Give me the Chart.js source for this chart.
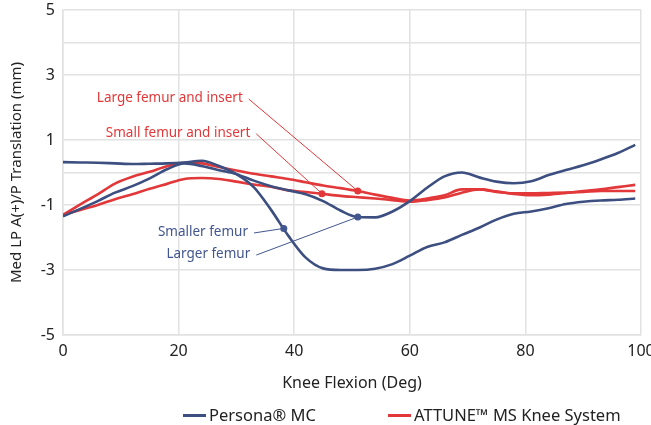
<!DOCTYPE html>
<html>
<head>
<meta charset="utf-8">
<script src="https://cdn.jsdelivr.net/npm/chart.js@4"></script>
<style>
  body { margin: 0; background: #fff; }
  #wrap { position: relative; width: 651px; height: 425px; font-family: "Noto Sans", sans-serif; }
  #legend { position: absolute; top: 404px; left: 0; width: 651px; height: 22px; font-size: 16.5px; color: #222; }
  #legend span.item { position: absolute; top: 0; white-space: nowrap; line-height: 22px; }
  #legend i { display: inline-block; width: 23px; height: 3px; vertical-align: middle; margin-right: 3px; position: relative; top: -1px; }
</style>
</head>
<body>
<div id="wrap">
  <canvas id="kneeChart" width="651" height="425"></canvas>
  <div id="legend">
    <span class="item" style="left:183px"><i style="background:#3c4f80"></i>Persona® MC</span>
    <span class="item" style="left:388px"><i style="background:#e2383a"></i>ATTUNE™ MS Knee System</span>
  </div>
</div>
<script>
// knee flexion (deg)
const flexion = [0, 3, 6, 9, 12, 15, 18, 21, 24, 27, 30, 33, 36, 39, 42, 45, 48, 51,
                 54, 57, 60, 63, 66, 69, 72, 75, 78, 81, 84, 87, 90, 93, 96, 99];

// Persona MC
const smallerFemur = [0.32, 0.31, 0.30, 0.28, 0.26, 0.27, 0.28, 0.31, 0.36, 0.20, -0.05, -0.45,
                      -1.15, -1.95, -2.62, -2.95, -3.0, -3.0, -2.96, -2.82, -2.56, -2.29, -2.15,
                      -1.92, -1.70, -1.45, -1.27, -1.20, -1.10, -0.97, -0.90, -0.86, -0.84, -0.80];
const largerFemur = [-1.35, -1.12, -0.88, -0.62, -0.42, -0.18, 0.10, 0.28, 0.20, 0.07, -0.05, -0.25,
                     -0.42, -0.55, -0.67, -0.88, -1.17, -1.37, -1.38, -1.20, -0.88, -0.47, -0.12,
                     0.0, -0.15, -0.28, -0.33, -0.27, -0.08, 0.08, 0.22, 0.40, 0.60, 0.85];

// ATTUNE MS
const largeFemurInsert = [-1.30, -0.98, -0.67, -0.34, -0.13, 0.02, 0.19, 0.30, 0.28, 0.17, 0.06, -0.04,
                          -0.12, -0.20, -0.30, -0.40, -0.48, -0.57, -0.68, -0.78, -0.86, -0.80, -0.70,
                          -0.52, -0.52, -0.60, -0.64, -0.64, -0.63, -0.62, -0.60, -0.57, -0.57, -0.57];
const smallFemurInsert = [-1.30, -1.15, -1.00, -0.82, -0.67, -0.50, -0.35, -0.20, -0.17, -0.20, -0.28, -0.37,
                          -0.44, -0.55, -0.60, -0.66, -0.72, -0.76, -0.80, -0.85, -0.90, -0.85, -0.77,
                          -0.62, -0.52, -0.58, -0.66, -0.70, -0.68, -0.63, -0.57, -0.52, -0.45, -0.38];

const yTickLabels = [5, 3, 1, -1, -3, -5];
const hiddenGrid = [2, -2, -4];

const blue = "#3c4f80";
const red = "#e2383a";

// callouts: text anchor (right end) and the point they mark, in data units
const callouts = [
    { text: "Large femur and insert", color: red, tx: 31.1, ty: 2.29, px: 51.0, py: -0.57 },
    { text: "Small femur and insert", color: red, tx: 32.4, ty: 1.22, px: 44.8, py: -0.65 },
    { text: "Smaller femur", color: "#42568f", tx: 32.0, ty: -1.83, px: 38.2, py: -1.72 },
    { text: "Larger femur", color: "#42568f", tx: 32.4, ty: -2.51, px: 51.0, py: -1.37 }
];

function toPoints(values) {
    return flexion.map((x, i) => ({ x: x, y: values[i] }));
}

function lineSet(label, values, color) {
    return {
        label: label,
        data: toPoints(values),
        borderColor: color,
        backgroundColor: color,
        borderWidth: 2.6,
        pointRadius: 0,
        cubicInterpolationMode: "monotone",
        fill: false
    };
}

const calloutPlugin = {
    id: "callouts",
    afterDatasetsDraw(chart) {
        const ctx = chart.ctx;
        const xs = chart.scales.x, ys = chart.scales.y;
        ctx.save();
        ctx.font = "13.5px 'Noto Sans', sans-serif";
        ctx.textBaseline = "middle";
        ctx.textAlign = "right";
        callouts.forEach(c => {
            const tx = xs.getPixelForValue(c.tx), ty = ys.getPixelForValue(c.ty);
            const px = xs.getPixelForValue(c.px), py = ys.getPixelForValue(c.py);
            ctx.fillStyle = c.color;
            ctx.fillText(c.text, tx, ty);
            ctx.strokeStyle = c.color;
            ctx.lineWidth = 1;
            ctx.beginPath();
            ctx.moveTo(tx + 6, ty + 1);
            ctx.lineTo(px, py);
            ctx.stroke();
            ctx.beginPath();
            ctx.arc(px, py, 3.5, 0, Math.PI * 2);
            ctx.fill();
        });
        ctx.restore();
    }
};

const ctx = document.getElementById("kneeChart").getContext("2d");
new Chart(ctx, {
    type: "line",
    data: {
        datasets: [
            lineSet("Smaller femur", smallerFemur, blue),
            lineSet("Larger femur", largerFemur, blue),
            lineSet("Large femur and insert", largeFemurInsert, red),
            lineSet("Small femur and insert", smallFemurInsert, red)
        ]
    },
    options: {
        responsive: false,
        animation: false,
        devicePixelRatio: 1,
        layout: { padding: { top: 10, right: 10, bottom: 30, left: 0 } },
        plugins: {
            legend: { display: false },
            tooltip: { enabled: false }
        },
        scales: {
            x: {
                type: "linear",
                min: 0,
                max: 100,
                ticks: {
                    stepSize: 20,
                    padding: 7,
                    color: "#222",
                    font: { family: "'Noto Sans', sans-serif", size: 16 }
                },
                grid: { color: "#e2e2e2", lineWidth: 1.5, drawTicks: false },
                border: { color: "#e2e2e2", width: 1.5 },
                title: {
                    display: true,
                    text: "Knee Flexion (Deg)",
                    color: "#222",
                    padding: { top: 0, bottom: 2 },
                    font: { family: "'Noto Sans', sans-serif", size: 16 }
                },
                afterFit(scale) {
                    scale.height = 60;
                    scale.paddingLeft = 0;
                    scale.paddingRight = 0;
                }
            },
            y: {
                min: -5,
                max: 5,
                ticks: {
                    stepSize: 1,
                    autoSkip: false,
                    padding: 8,
                    color: "#222",
                    font: { family: "'Noto Sans', sans-serif", size: 16 },
                    callback: v => yTickLabels.includes(v) ? String(v) : ""
                },
                grid: {
                    drawTicks: false,
                    lineWidth: 1.5,
                    color: c => hiddenGrid.includes(c.tick.value) ? "rgba(0,0,0,0)" : "#e2e2e2"
                },
                border: { color: "#e2e2e2", width: 1.5 },
                title: {
                    display: true,
                    text: "Med LP A(+)/P Translation (mm)",
                    color: "#222",
                    padding: { top: 8, bottom: 0 },
                    font: { family: "'Noto Sans', sans-serif", size: 15 }
                },
                afterFit(scale) {
                    scale.width = 63;
                    scale.paddingTop = 0;
                    scale.paddingBottom = 0;
                }
            }
        }
    },
    plugins: [calloutPlugin]
});
</script>
</body>
</html>
